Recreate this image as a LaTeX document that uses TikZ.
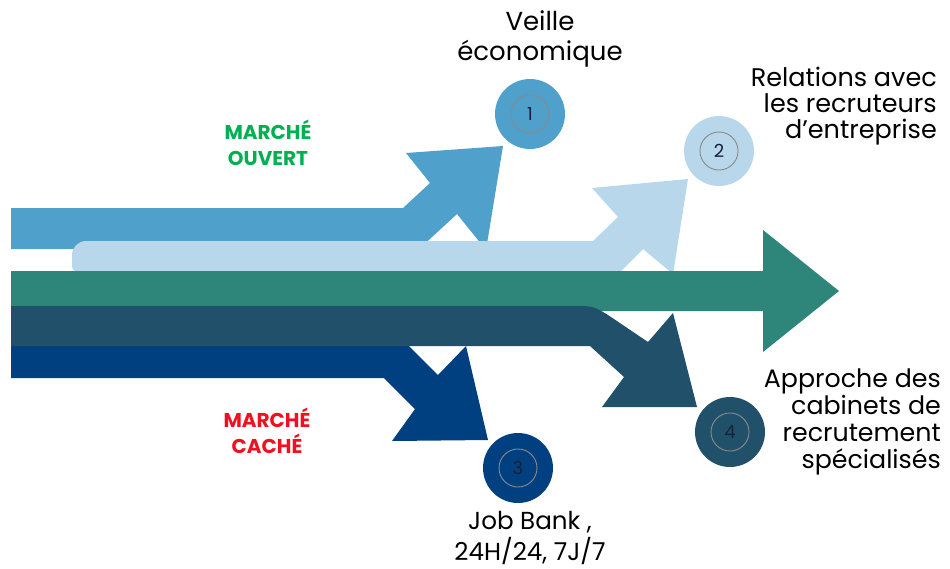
\documentclass[tikz,border=0pt]{standalone}
\usepackage{fontspec}
\setmainfont{Poppins}
\definecolor{cOne}{HTML}{50A0CC}
\definecolor{cTwo}{HTML}{B8D7EA}
\definecolor{cThree}{HTML}{2E867A}
\definecolor{cFour}{HTML}{21516A}
\definecolor{cFive}{HTML}{014080}
\definecolor{cGreen}{HTML}{00B050}
\definecolor{cRed}{HTML}{F01020}
\definecolor{cNum}{HTML}{16223A}
\definecolor{cRing}{HTML}{8A8A8A}
\tikzset{
  disc/.style={circle, minimum size=70pt, inner sep=0pt},
  ring/.style={circle, draw=cRing, line width=0.9pt, minimum size=38pt, inner sep=0pt, text=cNum, font=\fontsize{18}{18}\selectfont},
  lbl/.style={inner sep=0pt, text=black},
  market/.style={inner sep=0pt, align=center, font=\fontsize{20}{26}\selectfont\bfseries}
}
\begin{document}
\begin{tikzpicture}[x=1pt,y=-1pt]
\useasboundingbox (0,0) rectangle (950,568);
\fill[white] (0,0) rectangle (950,568);
% arrow 1
\fill[cOne] (11,208) -- (403,208) -- (430,183) -- (406,153) -- (503,146) -- (486,250) -- (457,214) -- (419,249) -- (11,249) -- cycle;
% arrow 2
\fill[cTwo] (618,272) -- (78,272) arc[start angle=90, end angle=180, radius=6] -- (72,255) arc[start angle=180, end angle=270, radius=14] -- (593,241) -- (618,217) -- (592,188) -- (688,179) -- (673,274) -- (643,249) -- (620,272) -- cycle;
% arrow teal
\fill[cThree] (11,271) -- (763,271) -- (763,230) -- (839,291) -- (763,352) -- (763,311) -- (11,311) -- cycle;
% arrow 3 dark blue
\fill[cFive] (11,341) -- (404,341) -- (438,375) -- (466,346) -- (488,440) -- (392,441) -- (415,409) -- (384,378) -- (11,378) -- cycle;
% arrow 4 slate
\fill[cFour] (11,306) -- (578,306) .. controls (593,306) and (595,307) .. (608,315) -- (648,342) -- (673,313) -- (697,407) -- (602,407) -- (624,377) -- (590,346) -- (11,346) -- cycle;
% circles
\node[disc, fill=cOne] (d1) at (530,114) {};
\node[ring] (r1) at (d1.center) {1};
\node[disc, fill=cTwo] (d2) at (719,151) {};
\node[ring] (r2) at (d2.center) {2};
\node[disc, fill=cFive] (d3) at (518,468) {};
\node[ring] (r3) at (d3.center) {3};
\node[disc, fill=cFour] (d4) at (730,432) {};
\node[ring] (r4) at (d4.center) {4};
% labels (anchor base = baseline of last line)
\node[lbl, align=center, anchor=base, font=\fontsize{26}{30}\selectfont] (t1) at (540,60) {Veille\\économique};
\node[lbl, align=right, anchor=base east, font=\fontsize{25.5}{26}\selectfont] (t2) at (937,138) {Relations avec\\les recruteurs\\d’entreprise};
\node[lbl, align=right, anchor=base east, font=\fontsize{25.3}{27}\selectfont] (t4) at (941,468) {Approche des\\cabinets de\\recrutement\\spécialisés};
\node[lbl, align=center, anchor=base, font=\fontsize{24.6}{31}\selectfont] (t3) at (530,560) {Job Bank ,\\24H/24, 7J/7};
\node[market, text=cGreen, anchor=base] (m1) at (268,165) {MARCHÉ\\OUVERT};
\node[market, text=cRed, anchor=base] (m2) at (267,453) {MARCHÉ\\CACHÉ};
\end{tikzpicture}
\end{document}
